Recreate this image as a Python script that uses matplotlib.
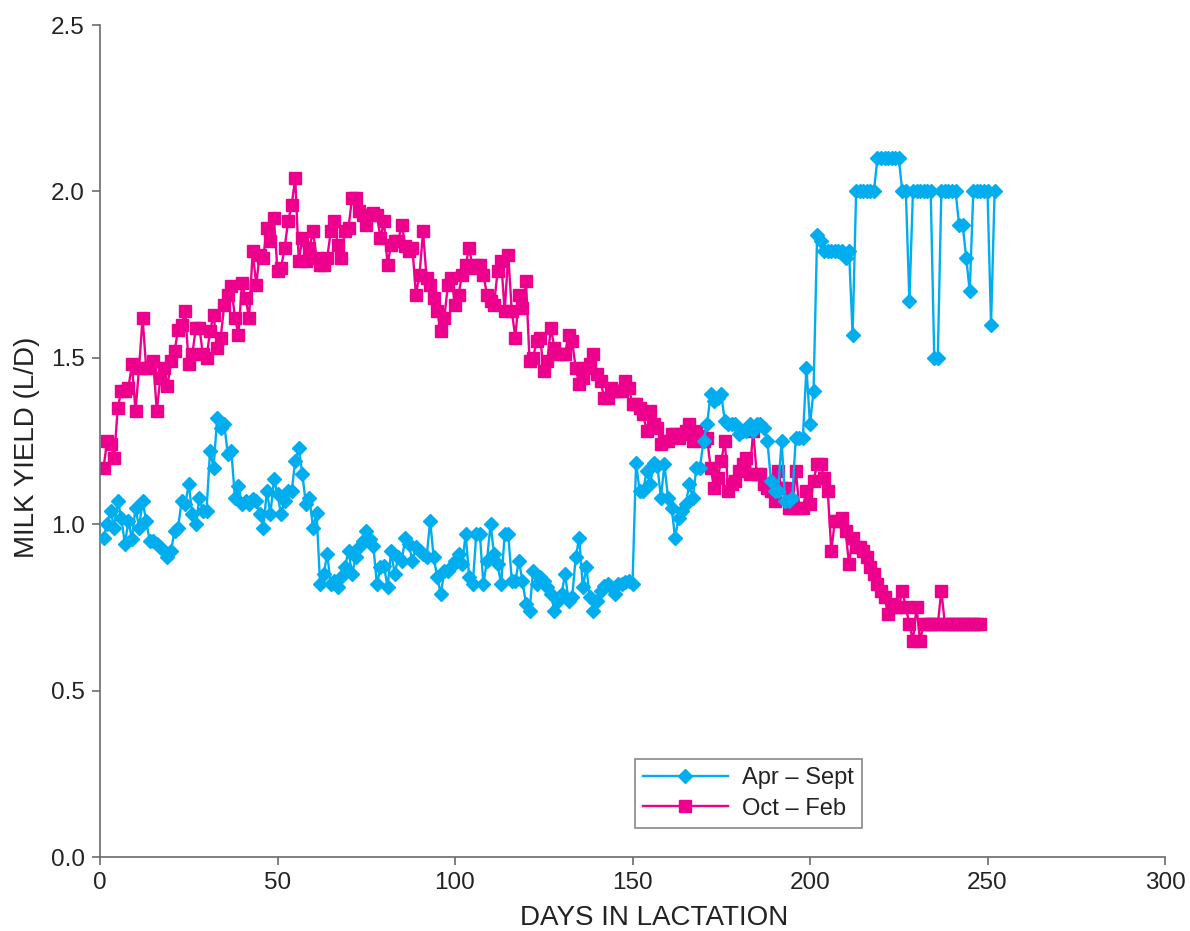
import numpy as np
import matplotlib
matplotlib.use("Agg")
import matplotlib.pyplot as plt
from matplotlib.ticker import FormatStrFormatter

plt.rcParams['font.family'] = ['Liberation Sans', 'DejaVu Sans']

# Daily milk yield (L/D), one reading per day of lactation starting at day 1
apr_sept = [
    0.96, 1.00, 1.04, 0.99, 1.07, 1.02, 0.94, 1.01, 0.955, 1.05,
    0.99, 1.07, 1.01, 0.95, 0.95, 0.94, 0.93, 0.92, 0.90, 0.92,
    0.98, 0.99, 1.07, 1.06, 1.12, 1.03, 1.00, 1.08, 1.04, 1.04,
    1.22, 1.17, 1.32, 1.29, 1.30, 1.21, 1.22, 1.08, 1.115, 1.06,
    1.07, 1.06, 1.075, 1.07, 1.03, 0.99, 1.10, 1.03, 1.135, 1.09,
    1.03, 1.07, 1.10, 1.10, 1.19, 1.23, 1.15, 1.06, 1.08, 0.99,
    1.035, 0.82, 0.85, 0.91, 0.82, 0.83, 0.81, 0.84, 0.87, 0.92,
    0.85, 0.90, 0.93, 0.95, 0.98, 0.955, 0.935, 0.82, 0.87, 0.875,
    0.81, 0.92, 0.85, 0.90, 0.89, 0.96, 0.94, 0.89, 0.93, 0.92,
    0.91, 0.90, 1.01, 0.90, 0.84, 0.79, 0.86, 0.86, 0.87, 0.89,
    0.91, 0.88, 0.97, 0.84, 0.82, 0.97, 0.97, 0.82, 0.89, 1.00,
    0.91, 0.88, 0.82, 0.97, 0.97, 0.83, 0.83, 0.89, 0.83, 0.76,
    0.74, 0.86, 0.82, 0.84, 0.83, 0.81, 0.79, 0.74, 0.77, 0.79,
    0.85, 0.77, 0.78, 0.90, 0.96, 0.81, 0.87, 0.78, 0.74, 0.77,
    0.80, 0.815, 0.82, 0.81, 0.79, 0.82, 0.82, 0.825, 0.83, 0.82,
    1.185, 1.10, 1.10, 1.16, 1.12, 1.185, 1.175, 1.08, 1.18, 1.08,
    1.05, 0.96, 1.02, 1.04, 1.06, 1.12, 1.08, 1.17, 1.17, 1.25,
    1.30, 1.39, 1.37, 1.38, 1.39, 1.31, 1.30, 1.30, 1.30, 1.27,
    1.28, 1.28, 1.30, 1.28, 1.30, 1.30, 1.29, 1.25, 1.13, 1.10,
    1.10, 1.25, 1.07, 1.07, 1.08, 1.26, 1.26, 1.26, 1.47, 1.30,
    1.40, 1.87, 1.85, 1.82, 1.82, 1.82, 1.82, 1.82, 1.82, 1.80,
    1.82, 1.57, 2.00, 2.00, 2.00, 2.00, 2.00, 2.00, 2.10, 2.10,
    2.10, 2.10, 2.10, 2.10, 2.10, 2.00, 2.00, 1.67, 2.00, 2.00,
    2.00, 2.00, 2.00, 2.00, 1.50, 1.50, 2.00, 2.00, 2.00, 2.00,
    2.00, 1.90, 1.90, 1.80, 1.70, 2.00, 2.00, 2.00, 2.00, 2.00,
    1.60, 2.00,
]

oct_feb = [
    1.17, 1.25, 1.24, 1.20, 1.35, 1.40, 1.40, 1.41, 1.48, 1.34,
    1.47, 1.62, 1.47, 1.47, 1.49, 1.34, 1.44, 1.47, 1.415, 1.49,
    1.52, 1.585, 1.60, 1.64, 1.48, 1.51, 1.59, 1.59, 1.51, 1.50,
    1.58, 1.63, 1.53, 1.56, 1.66, 1.69, 1.715, 1.62, 1.57, 1.725,
    1.68, 1.62, 1.82, 1.72, 1.81, 1.80, 1.89, 1.85, 1.92, 1.76,
    1.77, 1.83, 1.91, 1.96, 2.04, 1.79, 1.86, 1.79, 1.83, 1.88,
    1.80, 1.78, 1.78, 1.80, 1.88, 1.91, 1.84, 1.80, 1.88, 1.89,
    1.98, 1.98, 1.94, 1.93, 1.90, 1.93, 1.935, 1.93, 1.86, 1.91,
    1.78, 1.84, 1.85, 1.85, 1.90, 1.835, 1.82, 1.83, 1.69, 1.75,
    1.88, 1.74, 1.72, 1.68, 1.64, 1.58, 1.62, 1.72, 1.74, 1.66,
    1.69, 1.75, 1.78, 1.83, 1.77, 1.78, 1.78, 1.75, 1.69, 1.67,
    1.66, 1.76, 1.79, 1.64, 1.81, 1.64, 1.56, 1.69, 1.65, 1.73,
    1.49, 1.50, 1.55, 1.56, 1.46, 1.49, 1.59, 1.53, 1.51, 1.51,
    1.51, 1.57, 1.55, 1.47, 1.42, 1.44, 1.47, 1.48, 1.51, 1.45,
    1.43, 1.38, 1.38, 1.41, 1.40, 1.40, 1.40, 1.43, 1.41, 1.36,
    1.36, 1.35, 1.33, 1.28, 1.34, 1.30, 1.29, 1.24, 1.25, 1.25,
    1.27, 1.27, 1.26, 1.27, 1.28, 1.30, 1.25, 1.28, 1.265, 1.25,
    1.26, 1.17, 1.11, 1.14, 1.19, 1.25, 1.10, 1.12, 1.13, 1.16,
    1.18, 1.20, 1.15, 1.28, 1.15, 1.15, 1.12, 1.11, 1.10, 1.07,
    1.16, 1.11, 1.11, 1.05, 1.05, 1.16, 1.05, 1.05, 1.10, 1.06,
    1.13, 1.18, 1.18, 1.14, 1.10, 0.92, 1.01, 1.01, 1.02, 0.98,
    0.88, 0.96, 0.93, 0.93, 0.92, 0.90, 0.87, 0.85, 0.82, 0.80,
    0.78, 0.73, 0.76, 0.75, 0.75, 0.80, 0.75, 0.70, 0.65, 0.75,
    0.65, 0.70, 0.70, 0.70, 0.70, 0.70, 0.80, 0.70, 0.70, 0.70,
    0.70, 0.70, 0.70, 0.70, 0.70, 0.70, 0.70, 0.70,
]

series_names = ["Apr \u2013 Sept", "Oct \u2013 Feb"]
x_ticks = [0, 50, 100, 150, 200, 250, 300]
y_ticks = [0.0, 0.5, 1.0, 1.5, 2.0, 2.5]

days_a = np.arange(1, len(apr_sept) + 1)
days_o = np.arange(1, len(oct_feb) + 1)

blue = "#00AEEF"
pink = "#EC008C"
axis_gray = "#6b6b6b"
text_col = "#222222"

fig = plt.figure(figsize=(11.9, 9.31), dpi=100)
ax = fig.add_axes([100 / 1190, 1 - 857 / 931, 1065 / 1190, 832 / 931])

ax.plot(days_a, apr_sept, color=blue, lw=1.7, marker="D", ms=7,
        mec=blue, mfc=blue, label=series_names[0], zorder=3)
ax.plot(days_o, oct_feb, color=pink, lw=1.7, marker="s", ms=8,
        mec=pink, mfc=pink, label=series_names[1], zorder=2)

ax.set_xlim(0, 300)
ax.set_ylim(0, 2.5)
ax.set_xticks(x_ticks)
ax.set_yticks(y_ticks)
ax.yaxis.set_major_formatter(FormatStrFormatter("%.1f"))

for side in ("top", "right"):
    ax.spines[side].set_visible(False)
for side in ("left", "bottom"):
    ax.spines[side].set_color(axis_gray)
    ax.spines[side].set_linewidth(1.2)

ax.tick_params(axis="both", direction="out", length=6, width=1.2,
               color=axis_gray, labelsize=17.5, labelcolor=text_col, pad=5)

ax.set_xlabel("DAYS IN LACTATION", fontsize=20, color=text_col)
ax.xaxis.set_label_coords(0.52, -0.058)
ax.set_ylabel("MILK YIELD (L/D)", fontsize=20, color=text_col)
ax.yaxis.set_label_coords(-0.056, 0.493)

leg = ax.legend(loc="lower left", bbox_to_anchor=(0.502, 0.035),
                borderaxespad=0, fontsize=17, frameon=True, fancybox=False,
                handlelength=3.6, borderpad=0.35, labelspacing=0.35,
                handletextpad=0.6)
leg.get_frame().set_edgecolor(axis_gray)
leg.get_frame().set_linewidth(1.2)
for t in leg.get_texts():
    t.set_color(text_col)

fig.savefig("out.png", dpi=100, facecolor="white")
